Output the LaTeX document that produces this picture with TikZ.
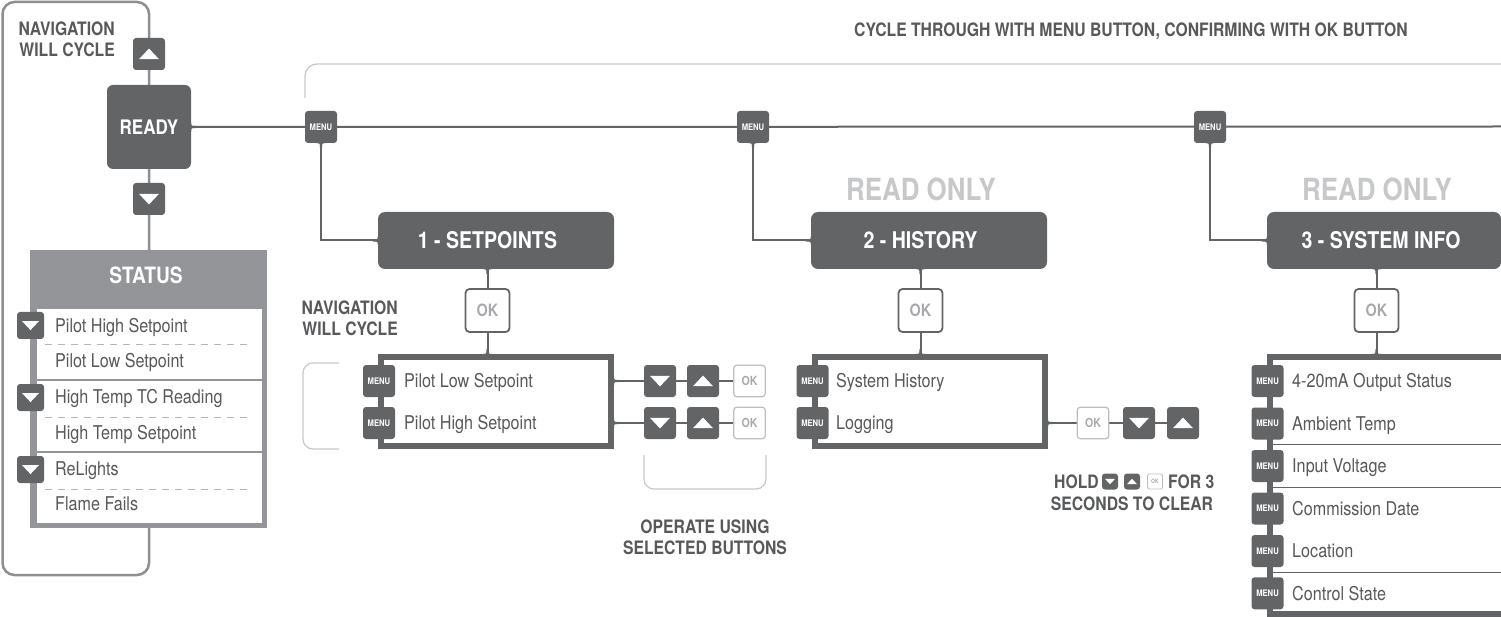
\documentclass[tikz,border=0pt]{standalone}
\usepackage{fontspec}
\setmainfont{TeX Gyre Heros}[FakeStretch=0.85]
\usetikzlibrary{calc,backgrounds}
\definecolor{dk}{HTML}{636466}
\definecolor{txt}{HTML}{58595B}
\definecolor{midg}{HTML}{8E8F92}
\definecolor{stat}{HTML}{939598}
\definecolor{lt}{HTML}{C7C8CA}
\definecolor{okt}{HTML}{A7A9AC}
\definecolor{okbd}{HTML}{BCBEC0}
\definecolor{brkc}{HTML}{CACACA}
\definecolor{dashc}{HTML}{B5B6B8}
\tikzset{
  btn/.style={fill=dk, rounded corners=3pt, inner sep=0pt, minimum size=#1},
  upb/.style={btn=#1pt, path picture={\fill[white,sharp corners] ($(path picture bounding box.center)+(-0.31*#1pt,-0.16*#1pt)$) -- ++(0.62*#1pt,0pt) -- ++(-0.31*#1pt,0.33*#1pt) -- cycle;}},
  dnb/.style={btn=#1pt, path picture={\fill[white,sharp corners] ($(path picture bounding box.center)+(-0.31*#1pt,0.16*#1pt)$) -- ++(0.62*#1pt,0pt) -- ++(-0.31*#1pt,-0.33*#1pt) -- cycle;}},
  menub/.style={btn=32pt, text=white, font=\fontsize{9}{9}\selectfont\bfseries},
  okbig/.style={draw=dk, line width=1.8pt, fill=white, rounded corners=4pt, minimum width=44pt, minimum height=43pt, inner sep=0pt, text=okt, font=\fontsize{17}{17}\selectfont\bfseries},
  oksm/.style={draw=okbd, line width=1.2pt, fill=white, rounded corners=3pt, minimum size=31.5pt, inner sep=0pt, text=okt, font=\fontsize{12.5}{12.5}\selectfont\bfseries},
  hdr/.style={fill=dk, rounded corners=7pt, minimum width=236pt, minimum height=57pt, inner sep=0pt},
  hdrt/.style={text=white, inner sep=0pt, font=\fontsize{23}{23}\selectfont\bfseries},
  listb/.style={draw=dk, line width=6pt, fill=white, inner sep=0pt},
  item/.style={anchor=base west, inner sep=0pt, text=txt, font=\fontsize{19}{19}\selectfont},
  lbl/.style={inner sep=0pt, text=txt, font=\fontsize{18.5}{21}\selectfont\bfseries},
  rdonly/.style={inner sep=0pt, text=lt, font=\fontsize{30.5}{30.5}\selectfont\bfseries},
  conn/.style={draw=dk, line width=2pt},
  brk/.style={draw=brkc, line width=1.3pt, rounded corners=10pt},
  dashline/.style={draw=dashc, line width=1pt, dash pattern=on 7pt off 6pt},
  sepline/.style={draw=dk, line width=1.4pt},
  flD/.pic={\fill[dk] (-5,0) .. controls (-1,0) .. (-1,5) -- (1,5) .. controls (1,0) .. (5,0) -- cycle;},
  flU/.pic={\fill[dk] (-5,0) .. controls (-1,0) .. (-1,-5) -- (1,-5) .. controls (1,0) .. (5,0) -- cycle;},
  flL/.pic={\fill[dk] (0,-5) .. controls (0,-1) .. (-5,-1) -- (-5,1) .. controls (0,1) .. (0,5) -- cycle;},
  flR/.pic={\fill[dk] (0,-5) .. controls (0,-1) .. (5,-1) -- (5,1) .. controls (0,1) .. (0,5) -- cycle;},
}
\begin{document}
\begin{tikzpicture}[x=1pt,y=-1pt]
\useasboundingbox (0,0) rectangle (1501,617);

% ---------- left column ----------
\draw[draw=midg, line width=2.5pt, rounded corners=12pt] (2.5,2) rectangle (149,575);
\node[lbl, align=right, anchor=east] (nav1) at (115,39.5) {NAVIGATION\\WILL CYCLE};
\node[upb=32] (upL) at (149,54) {};
\node[fill=dk, rounded corners=6pt, minimum size=84pt, inner sep=0pt, text=white, font=\fontsize{20}{20}\selectfont\bfseries] (ready) at (149,127) {READY};
\node[dnb=32] (dnL) at (149,199) {};

\node[fill=stat, minimum width=237pt, minimum height=278pt, inner sep=0pt] (status) at (148.5,389) {};
\node[text=white, inner sep=0pt, font=\fontsize{22.5}{22.5}\selectfont\bfseries] (stTitle) at (146,275) {STATUS};
\node[fill=white, minimum width=225pt, minimum height=70pt, inner sep=0pt] (pan1) at (149.5,344) {};
\node[fill=white, minimum width=225pt, minimum height=70pt, inner sep=0pt] (pan2) at (149.5,416) {};
\node[fill=white, minimum width=225pt, minimum height=70pt, inner sep=0pt] (pan3) at (149.5,488) {};
\draw[dashline] (45,345) -- (253,345);
\draw[dashline] (45,417) -- (253,417);
\draw[dashline] (45,489) -- (253,489);
\node[dnb=27] (sb1) at (30.5,325.5) {};
\node[dnb=27] (sb2) at (30.5,397.5) {};
\node[dnb=27] (sb3) at (30.5,469.5) {};
\node[item] (st1) at (55,332.7) {Pilot High Setpoint};
\node[item] (st2) at (55,367.3) {Pilot Low Setpoint};
\node[item] (st3) at (55,403.3) {High Temp TC Reading};
\node[item] (st4) at (55,439.3) {High Temp Setpoint};
\node[item] (st5) at (55,475.7) {ReLights};
\node[item] (st6) at (55,510.7) {Flame Fails};

% ---------- top ----------
\node[lbl] (title) at (1131,31) {CYCLE THROUGH WITH MENU BUTTON, CONFIRMING WITH OK BUTTON};
\node[menub] (p1) at (321,127) {MENU};
\node[menub] (p2) at (753,127) {MENU};
\node[menub] (p3) at (1210,127) {MENU};
\coordinate (mainend) at (1501,126.5);

% ---------- section 1 ----------
\node[hdr] (h1) at (496,240.5) {};
\node[hdrt] (h1t) at (487.5,240.5) {1 - SETPOINTS};
\node[okbig] (ok1) at (487.5,310.5) {OK};
\node[listb, minimum width=230pt, minimum height=89pt] (l1) at (496,401.5) {};
\node[menub] (m11) at (379,381) {MENU};
\node[menub] (m12) at (379,423) {MENU};
\node[item] (t11) at (404,387.7) {Pilot Low Setpoint};
\node[item] (t12) at (404,429.7) {Pilot High Setpoint};
\node[dnb=32] (d11) at (660,381) {};
\node[upb=32] (u11) at (703,381) {};
\node[oksm] (o11) at (749.5,381) {OK};
\node[dnb=32] (d12) at (660,423) {};
\node[upb=32] (u12) at (703,423) {};
\node[oksm] (o12) at (749.5,423) {OK};
\node[lbl, align=right, anchor=east] (nav2) at (398,318.5) {NAVIGATION\\WILL CYCLE};
\node[lbl, align=center] (oper) at (705,537.5) {OPERATE USING\\SELECTED BUTTONS};

% ---------- section 2 ----------
\node[rdonly] (ro2) at (921,189) {READ ONLY};
\node[hdr] (h2) at (929,240.5) {};
\node[hdrt] (h2t) at (920.5,240.5) {2 - HISTORY};
\node[okbig] (ok2) at (920.5,310.5) {OK};
\node[listb, minimum width=230pt, minimum height=89pt] (l2) at (930,401.5) {};
\node[menub] (m21) at (812.5,381) {MENU};
\node[menub] (m22) at (812.5,423) {MENU};
\node[item] (t21) at (836,387.7) {System History};
\node[item] (t22) at (836,429.7) {Logging};
\node[oksm] (o21) at (1093,423) {OK};
\node[dnb=32] (d21) at (1139,423) {};
\node[upb=32] (u21) at (1183,423) {};
\node[lbl, anchor=base west] (hold) at (1054,488) {HOLD};
\node[dnb=16] (hd) at (1110,481.5) {};
\node[upb=16] (hu) at (1132,481.5) {};
\node[draw=okbd, line width=0.8pt, fill=white, rounded corners=1.5pt, minimum size=15pt, inner sep=0pt, text=okt, font=\fontsize{6}{6}\selectfont\bfseries] (hok) at (1155,481.5) {OK};
\node[lbl, anchor=base west] (for3) at (1168,488) {FOR 3};
\node[lbl, anchor=base] (secs) at (1132,510) {SECONDS TO CLEAR};

% ---------- section 3 ----------
\node[rdonly] (ro3) at (1377,189) {READ ONLY};
\node[hdr, minimum width=234pt] (h3) at (1384,240.5) {};
\node[hdrt] (h3t) at (1381,240.5) {3 - SYSTEM INFO};
\node[okbig] (ok3) at (1376.5,310.5) {OK};
\node[listb, minimum width=257pt, minimum height=257pt] (l3) at (1398.5,485.5) {};
\draw[sepline] (1273,444.3) -- (1501,444.3);
\draw[sepline] (1273,487.7) -- (1501,487.7);
\draw[sepline] (1273,572.7) -- (1501,572.7);
\node[menub] (m31) at (1267.5,381) {MENU};
\node[menub] (m32) at (1267.5,423.5) {MENU};
\node[menub] (m33) at (1267.5,466) {MENU};
\node[menub] (m34) at (1267.5,508.5) {MENU};
\node[menub] (m35) at (1267.5,551) {MENU};
\node[menub] (m36) at (1267.5,593.3) {MENU};
\node[item] (t31) at (1292,387.7) {4-20mA Output Status};
\node[item] (t32) at (1292,430.2) {Ambient Temp};
\node[item] (t33) at (1292,472.7) {Input Voltage};
\node[item] (t34) at (1292,515.2) {Commission Date};
\node[item] (t35) at (1292,557.7) {Location};
\node[item] (t36) at (1292,600) {Control State};

% ---------- flares ----------
\pic at (ready.east) {flR};
\pic at (p1.south) {flD};
\pic at (p2.south) {flD};
\pic at (p3.south) {flD};
\pic at (h1.west) {flL};
\pic at (h2.west) {flL};
\pic at (h3.west) {flL};
\pic at (h1.south -| ok1) {flD};
\pic at (h2.south -| ok2) {flD};
\pic at (h3.south -| ok3) {flD};
\pic at (l1.north -| ok1) {flU};
\pic at (l2.north -| ok2) {flU};
\pic at (l3.north -| ok3) {flU};
\pic at (l1.east |- d11) {flR};
\pic at (l1.east |- d12) {flR};
\pic at (l2.east |- o21) {flR};

% ---------- connectors (behind) ----------
\begin{scope}[on background layer]
\draw[brk] (339,363) -- (303,363) -- (303,449) -- (339,449);
\draw[brk] (644,455) -- (644,489) -- (766,489) -- (766,455);
\draw[brk, rounded corners=12pt] (305,98) -- (305,64) -- (1515,64);
\draw[conn] (ready.east) -- (mainend);
\draw[conn] (p1) |- (h1.west);
\draw[conn] (p2) |- (h2.west);
\draw[conn] (p3) |- (h3.west);
\draw[conn] (h1.south -| ok1) -- (ok1) -- (l1.north -| ok1);
\draw[conn] (h2.south -| ok2) -- (ok2) -- (l2.north -| ok2);
\draw[conn] (h3.south -| ok3) -- (ok3) -- (l3.north -| ok3);
\draw[conn] (l1.east |- d11) -- (d11) -- (u11) -- (o11);
\draw[conn] (l1.east |- d12) -- (d12) -- (u12) -- (o12);
\draw[conn] (l2.east |- o21) -- (o21) -- (d21) -- (u21);
\end{scope}
\end{tikzpicture}
\end{document}
